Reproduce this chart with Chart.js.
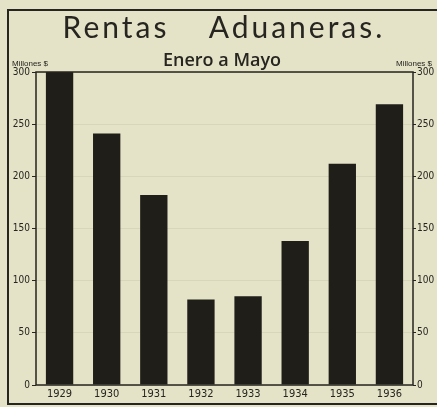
<!DOCTYPE html>
<html>
<head>
<meta charset="utf-8">
<script src="https://cdn.jsdelivr.net/npm/chart.js@4.4.1/dist/chart.umd.min.js"></script>
<style>
  html, body { margin: 0; padding: 0; background: #e4e2c7; }
  #wrap { width: 437px; height: 407px; }
</style>
</head>
<body>
<div id="wrap"><canvas id="myChart" width="437" height="407"></canvas></div>
<script>
// data
const years = ['1929', '1930', '1931', '1932', '1933', '1934', '1935', '1936'];
const rentas = [300, 241, 182, 82, 85, 138, 212, 269];
const yTicks = [0, 50, 100, 150, 200, 250, 300];

const paper = '#e4e2c7';
const ink = '#26251f';
const barInk = '#1f1e19';

// background, outer frame, titles and box around the plot
const framePlugin = {
    id: 'frame',
    beforeDraw: (chart) => {
        const c = chart.ctx;
        c.save();
        c.fillStyle = paper;
        c.fillRect(0, 0, chart.width, chart.height);
        c.strokeStyle = ink;
        c.lineWidth = 2;
        c.beginPath();
        c.moveTo(437, 10);
        c.lineTo(8, 10);
        c.lineTo(8, 404);
        c.lineTo(437, 404);
        c.stroke();

        c.fillStyle = ink;
        c.textAlign = 'center';
        c.textBaseline = 'alphabetic';
        c.font = '30px Lato, "DejaVu Sans", sans-serif';
        c.letterSpacing = '3px';
        c.fillText('Rentas', 116, 38);
        c.fillText('Aduaneras.', 297, 38);
        c.letterSpacing = '0px';
        c.font = '600 18px "Open Sans", "DejaVu Sans Condensed", sans-serif';
        c.fillText('Enero a Mayo', 222, 66);
        c.font = '8px "Liberation Sans Narrow", sans-serif';
        c.textAlign = 'left';
        c.fillText('Millones $', 12, 66);
        c.textAlign = 'right';
        c.fillText('Millones $', 432, 66);
        c.restore();
    },
    afterDatasetsDraw: (chart) => {
        const a = chart.chartArea;
        const c = chart.ctx;
        c.save();
        c.strokeStyle = ink;
        c.lineWidth = 1.5;
        c.strokeRect(a.left, a.top, a.right - a.left, a.bottom - a.top);
        c.restore();
    }
};

const tickFont = { family: '"Liberation Sans Narrow", "DejaVu Sans Condensed", sans-serif', size: 10 };

const displayChart = () => {
    const ctx = document.getElementById('myChart');
    new Chart(ctx, {
        type: 'bar',
        data: {
            labels: years,
            datasets: [{
                label: 'Rentas Aduaneras',
                data: rentas,
                backgroundColor: barInk,
                borderWidth: 0,
                categoryPercentage: 1,
                barPercentage: 0.58
            }]
        },
        options: {
            responsive: false,
            animation: false,
            layout: { padding: { top: 72, left: 0, right: 0, bottom: 0 } },
            plugins: {
                legend: { display: false },
                tooltip: { enabled: false }
            },
            scales: {
                x: {
                    grid: { display: false, drawTicks: false },
                    border: { display: false },
                    ticks: { color: ink, font: { ...tickFont, size: 11 }, padding: 3 },
                    afterFit: (s) => { s.height = 22; }
                },
                y: {
                    position: 'left',
                    min: 0,
                    max: 300,
                    afterBuildTicks: (s) => { s.ticks = yTicks.map(v => ({ value: v })); },
                    grid: { color: 'rgba(60,60,40,0.08)', tickColor: ink, tickLength: 4 },
                    border: { display: false },
                    ticks: { color: ink, font: tickFont, padding: 2 },
                    afterFit: (s) => { s.width = 36; }
                },
                y2: {
                    position: 'right',
                    min: 0,
                    max: 300,
                    afterBuildTicks: (s) => { s.ticks = yTicks.map(v => ({ value: v })); },
                    grid: { drawOnChartArea: false, tickColor: ink, tickLength: 3 },
                    border: { display: false },
                    ticks: { color: ink, font: tickFont, padding: 1 },
                    afterFit: (s) => { s.width = 24; }
                }
            }
        },
        plugins: [framePlugin]
    });
};

displayChart();
</script>
</body>
</html>
